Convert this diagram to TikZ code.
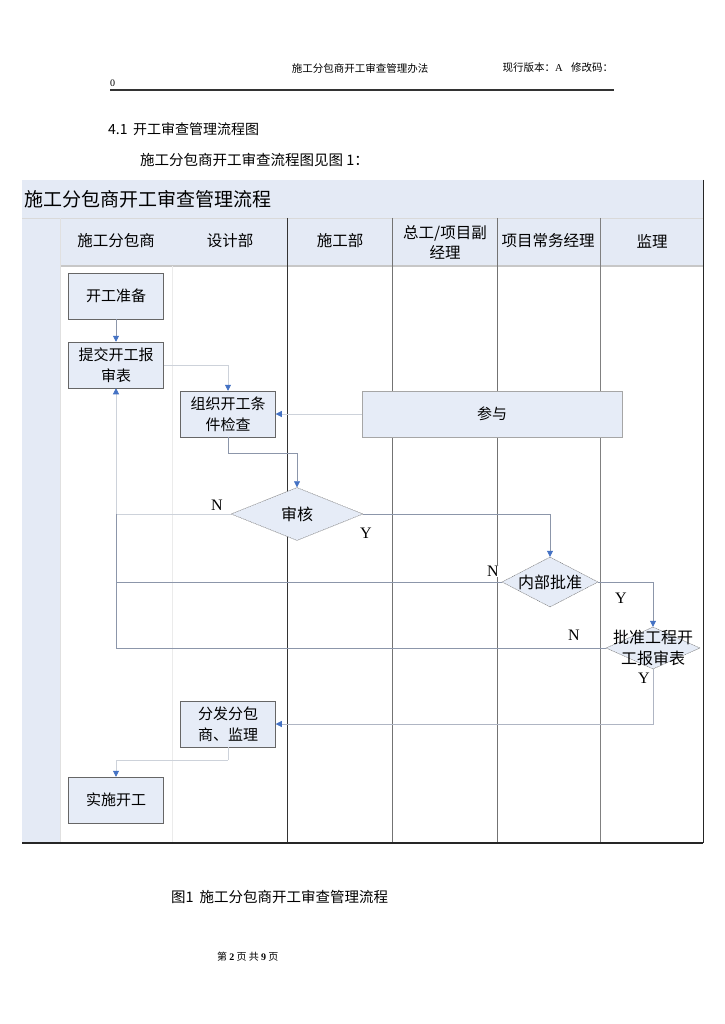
\documentclass[tikz,border=0pt]{standalone}
\usepackage{fontspec}
\setmainfont{Noto Sans CJK SC}
\newfontfamily\serifl{Liberation Serif}
\usetikzlibrary{arrows.meta,shapes.geometric}
\definecolor{lane}{HTML}{E4EAF5}
\definecolor{boxfill}{HTML}{E6ECF7}
\definecolor{conn}{HTML}{8C96AA}
\definecolor{connlight}{HTML}{CDD2DA}
\definecolor{tipblue}{HTML}{4472C4}
\tikzset{
  fs/.style={font=\fontsize{#1}{#1}\selectfont},
  box/.style={draw=black!60, line width=0.5pt, fill=boxfill, minimum width=95pt, minimum height=46pt,
    inner sep=0pt, align=center, font=\fontsize{15}{21}\selectfont},
  dia/.style={diamond, draw=black!55, line width=0.4pt, dash pattern=on 1.2pt off 0.6pt, fill=boxfill,
    inner sep=0pt},
  diatext/.style={font=\fontsize{16}{21}\selectfont, align=center},
  yn/.style={font=\serifl\fontsize{16}{18}\selectfont, inner sep=1pt},
  conn/.style={draw=conn, line width=0.6pt, -{Triangle[length=6pt,width=6pt,color=tipblue,fill=tipblue]}},
  connl/.style={draw=connlight, line width=0.6pt, -{Triangle[length=6pt,width=6pt,color=tipblue,fill=tipblue]}},
  plain/.style={draw=conn, line width=0.6pt},
  plainl/.style={draw=connlight, line width=0.6pt},
  lanehead/.style={font=\fontsize{15.5}{20}\selectfont, align=center, inner sep=0pt},
}
\begin{document}
\begin{tikzpicture}[x=1pt,y=-1pt]
\useasboundingbox (0,0) rectangle (724,1024);
\fill[white] (0,0) rectangle (724,1024);

% page header
\node[fs=10.5, anchor=center] (hdtitle) at (360,68) {施工分包商开工审查管理办法};
\node[fs=10.5, anchor=west] (hdver) at (499,68) {现行版本：{\serifl A}\hspace{0.8em}修改码：};
\node[font=\serifl\fontsize{10}{12}\selectfont, anchor=west, inner sep=0pt] (hdzero) at (110,83) {0};
\draw[line width=1.4pt, black!80] (110,90) -- (614,90);

\node[fs=14, anchor=west, inner sep=0pt] (sec) at (108,129) {4.1\hspace{0.4em}开工审查管理流程图};
\node[fs=14.5, anchor=west, inner sep=0pt] (intro) at (140,160) {施工分包商开工审查流程图见图 1：};

% frame backgrounds
\fill[lane] (22,180) rectangle (703,218);
\fill[lane] (22,218) rectangle (60,843);
\fill[lane] (60,218) rectangle (703,266);
\draw[black!15, line width=0.6pt] (22,218) -- (703,218);
\draw[black!22, line width=1.6pt] (60,266) -- (703,266);
\draw[black!12, line width=0.6pt] (60,218) -- (60,843);
\node[fs=19, anchor=west, inner sep=0pt] (maintitle) at (24,199) {施工分包商开工审查管理流程};

% lane lines
\draw[black!8, line width=0.5pt] (172,266) -- (172,843);
\draw[black!80, line width=0.7pt] (287,218) -- (287,843);
\draw[black!55, line width=0.6pt] (392,218) -- (392,843);
\draw[black!55, line width=0.6pt] (497,218) -- (497,843);
\draw[black!50, line width=0.6pt] (600,218) -- (600,843);
\draw[black!85, line width=0.9pt] (703,180) -- (703,843);
\draw[black!85, line width=1.2pt] (22,843) -- (703,843);

% lane headers
\node[lanehead] (h1) at (116,241) {施工分包商};
\node[lanehead] (h2) at (230,241) {设计部};
\node[lanehead] (h3) at (340,241) {施工部};
\node[lanehead] (h4) at (445,242) {总工/项目副\\经理};
\node[lanehead] (h5) at (548,241) {项目常务经理};
\node[lanehead] (h6) at (652,241) {监理};

% boxes
\node[box] (prep) at (116,296) {开工准备};
\node[box] (submit) at (116,365) {提交开工报\\审表};
\node[box] (org) at (228,414) {组织开工条\\件检查};
\node[box, minimum width=260pt, draw=black!35] (join) at (492,414) {参与};
\node[box] (dist) at (228,724) {分发分包\\商、监理};
\node[box] (start) at (116,800) {实施开工};

% diamonds
\node[dia, minimum width=132pt, minimum height=53pt, label={[diatext]center:审核}] (rev) at (297,514) {};
\node[dia, minimum width=96pt, minimum height=50pt, label={[diatext]center:内部批准}] (int) at (550,582) {};
\node[dia, minimum width=94pt, minimum height=42pt, label={[diatext, text width=100pt]center:批准工程开\\工报审表}] (app) at (653,648) {};

% connectors
\coordinate (c1) at (297,453);
\coordinate (c2) at (228,760);
\draw[conn] (prep.south) -- (submit.north);
\draw[connl] (submit.east) -| (org.north);
\draw[connl] (join.west) -- (org.east);
\draw[plain] (org.south) |- (c1);
\draw[conn] (c1) -- (rev.north);
\draw[connl] (rev.west) -| (submit.south);
\draw[conn] (rev.east) -| (int.north);
\draw[plain] (int.west) -- (int.west -| submit.south);
\draw[conn] (int.east) -| (app.north);
\draw[plain] (app.west) -- (app.west -| submit.south);
\draw[connl, draw=conn!70] (app.south) |- (dist.east);
\draw[plainl] (dist.south) -- (c2);
\draw[connl] (c2) -| (start.north);
% darker vertical return line
\draw[plain] (submit.south |- rev.west) -- (submit.south |- app.west);

% Y / N labels
\node[yn] (n1) at (217,505) {N};
\node[yn] (y1) at (366,533) {Y};
\node[yn, fill=white] (n2) at (493,571) {N};
\node[yn] (y2) at (621,598) {Y};
\node[yn] (n3) at (574,635) {N};
\node[yn] (y3) at (644,678) {Y};

% caption & footer
\node[fs=14.5, anchor=west, inner sep=0pt] (cap) at (171,897) {图1\hspace{0.4em}施工分包商开工审查管理流程};
\node[fs=10, anchor=west, inner sep=0pt] (foot) at (217,957) {第 {\serifl\bfseries 2} 页 共 {\serifl\bfseries 9} 页};
\end{tikzpicture}
\end{document}
